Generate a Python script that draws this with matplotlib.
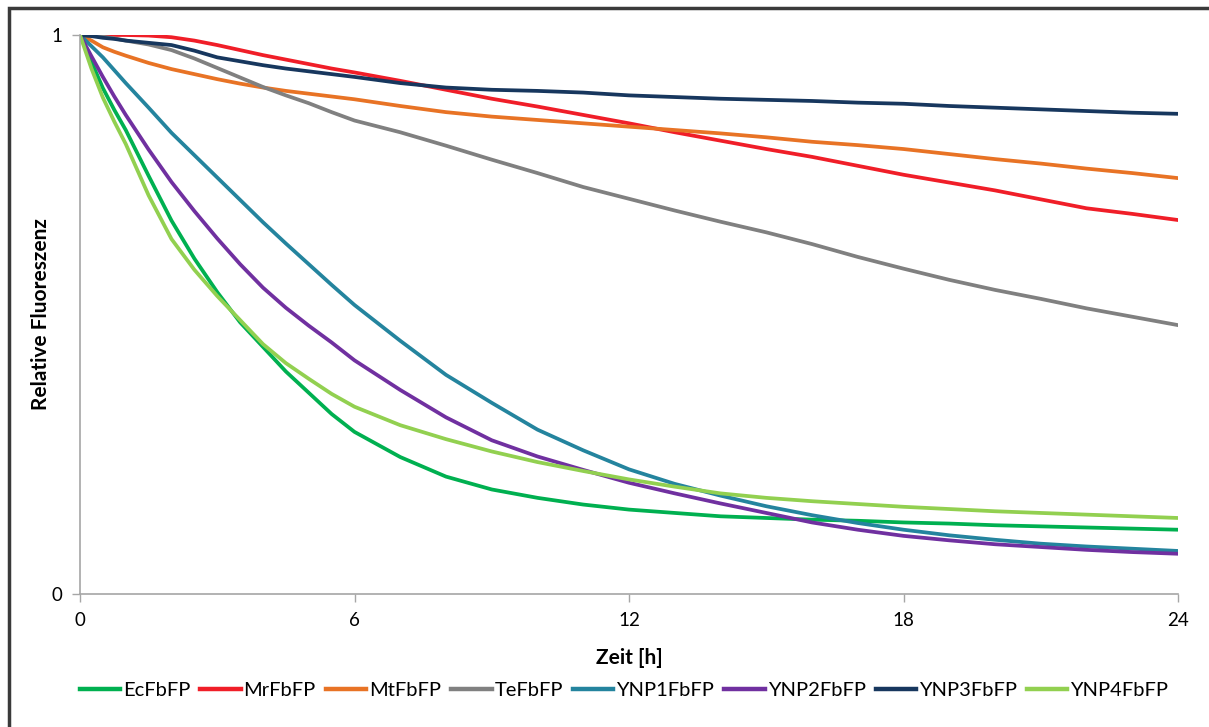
import numpy as np
import matplotlib.pyplot as plt
from matplotlib.patches import Rectangle

plt.rcParams['font.family'] = ['Lato', 'DejaVu Sans']

# Zeitpunkte [h]
zeit = [0, 0.25, 0.5, 0.75, 1, 1.5, 2, 2.5, 3, 3.5, 4, 4.5, 5, 5.5, 6, 7, 8, 9, 10, 11, 12,
        13, 14, 15, 16, 17, 18, 19, 20, 21, 22, 23, 24]

EcFbFP = [1.0, 0.952, 0.905, 0.866, 0.83, 0.748, 0.668, 0.6, 0.54, 0.486, 0.442, 0.398,
          0.36, 0.322, 0.29, 0.245, 0.21, 0.187, 0.172, 0.16, 0.151,
          0.145, 0.139, 0.136, 0.133, 0.131, 0.128, 0.126, 0.123, 0.121, 0.119, 0.117, 0.115]
MrFbFP = [1.0, 1.0, 1.0, 1.0, 1.0, 0.999, 0.996, 0.99, 0.982, 0.973, 0.964, 0.956,
          0.948, 0.94, 0.933, 0.918, 0.902, 0.886, 0.872, 0.857, 0.842,
          0.826, 0.811, 0.796, 0.782, 0.766, 0.75, 0.736, 0.722, 0.706, 0.69, 0.68, 0.669]
MtFbFP = [1.0, 0.99, 0.978, 0.97, 0.963, 0.95, 0.939, 0.93, 0.921, 0.913, 0.906, 0.9,
          0.895, 0.89, 0.885, 0.873, 0.862, 0.854, 0.848, 0.842, 0.836,
          0.83, 0.824, 0.817, 0.809, 0.803, 0.796, 0.787, 0.778, 0.77, 0.761, 0.753, 0.744]
TeFbFP = [1.0, 0.999, 0.997, 0.994, 0.99, 0.983, 0.973, 0.958, 0.941, 0.924, 0.907, 0.892,
          0.878, 0.862, 0.847, 0.826, 0.802, 0.777, 0.753, 0.728, 0.707,
          0.686, 0.666, 0.647, 0.626, 0.603, 0.582, 0.562, 0.544, 0.528, 0.511, 0.496, 0.481]
YNP1FbFP = [1.0, 0.98, 0.96, 0.937, 0.914, 0.87, 0.825, 0.785, 0.745, 0.705, 0.665, 0.627,
            0.59, 0.553, 0.517, 0.453, 0.392, 0.342, 0.294, 0.257, 0.223,
            0.197, 0.176, 0.157, 0.141, 0.127, 0.115, 0.105, 0.097, 0.09, 0.085, 0.081, 0.077]
YNP2FbFP = [1.0, 0.962, 0.925, 0.89, 0.857, 0.795, 0.737, 0.685, 0.636, 0.59, 0.548, 0.512,
            0.48, 0.45, 0.418, 0.365, 0.316, 0.275, 0.246, 0.222, 0.199,
            0.18, 0.162, 0.145, 0.128, 0.115, 0.104, 0.096, 0.089, 0.084, 0.079, 0.075, 0.072]
YNP3FbFP = [1.0, 0.998, 0.995, 0.993, 0.99, 0.986, 0.982, 0.972, 0.96, 0.953, 0.946, 0.94,
            0.935, 0.93, 0.925, 0.914, 0.906, 0.902, 0.9, 0.897, 0.892,
            0.889, 0.886, 0.884, 0.882, 0.879, 0.877, 0.873, 0.87, 0.867, 0.864, 0.861, 0.859]
YNP4FbFP = [1.0, 0.94, 0.888, 0.845, 0.805, 0.713, 0.635, 0.58, 0.533, 0.49, 0.447, 0.413,
            0.385, 0.358, 0.335, 0.302, 0.277, 0.255, 0.236, 0.22, 0.205,
            0.192, 0.18, 0.172, 0.166, 0.161, 0.156, 0.152, 0.148, 0.145, 0.142, 0.139, 0.136]

namen = ['EcFbFP', 'MrFbFP', 'MtFbFP', 'TeFbFP', 'YNP1FbFP', 'YNP2FbFP', 'YNP3FbFP', 'YNP4FbFP']
werte = [EcFbFP, MrFbFP, MtFbFP, TeFbFP, YNP1FbFP, YNP2FbFP, YNP3FbFP, YNP4FbFP]
farben = ['#00B050', '#F01E28', '#E87325', '#808080', '#24849E', '#7030A0', '#17375E', '#92D050']

fig = plt.figure(figsize=(12.09, 7.27), dpi=100)
ax = fig.add_axes([80/1209, 1-594/727, (1178-80)/1209, (594-35)/727])

for name, w, f in zip(namen, werte, farben):
    ax.plot(zeit, w, color=f, lw=2.7, label=name, solid_joinstyle='round')

ax.set_xlim(0, 24)
ax.set_ylim(0, 1)
ax.set_xticks([0, 6, 12, 18, 24])
ax.set_yticks([0, 1])
for s in ['top', 'right']:
    ax.spines[s].set_visible(False)
for s in ['left', 'bottom']:
    ax.spines[s].set_color('#A6A6A6')
    ax.spines[s].set_linewidth(1.2)
ax.tick_params(axis='both', direction='out', length=6, width=1, color='#A6A6A6',
               labelsize=13.5, pad=7)

ax.set_xlabel('Zeit [h]', fontsize=15, fontweight='bold', labelpad=14)
ax.set_ylabel('Relative Fluoreszenz', fontsize=15, fontweight='bold', labelpad=0)

leg = fig.legend(loc='center', bbox_to_anchor=(624/1209, 1-690/727), ncol=8,
                 frameon=False, fontsize=14.5, handlelength=2.0, handletextpad=0.15,
                 columnspacing=0.5)
for l in leg.get_lines():
    l.set_linewidth(3.2)

fig.patches.append(Rectangle((9/1209, -0.1), 1.2, 1 - 8/727 + 0.1, transform=fig.transFigure,
                             fill=False, edgecolor='#3A3A3A', lw=2.5))

fig.savefig('out.png', dpi=100)
